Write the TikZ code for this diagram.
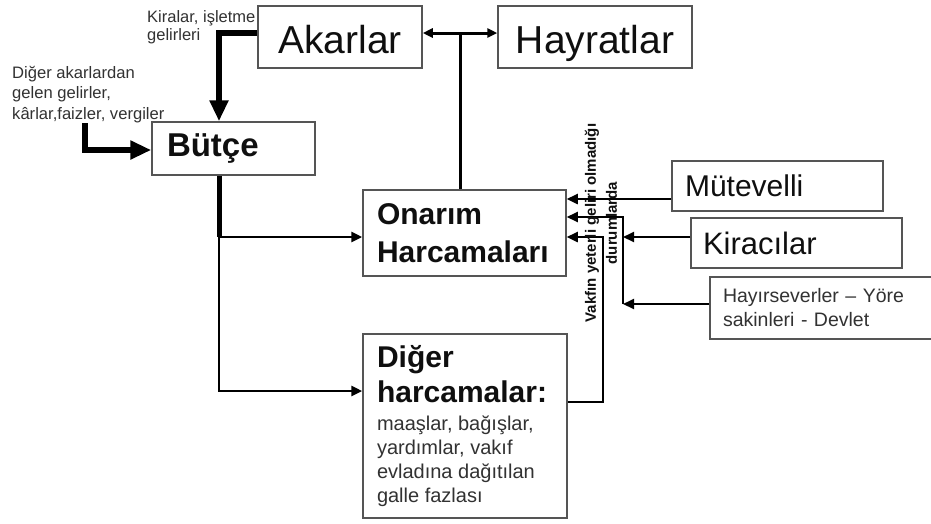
\documentclass[tikz,border=0pt]{standalone}
\usepackage{fontspec}
\setmainfont{Liberation Sans}
\usetikzlibrary{arrows.meta}
\definecolor{boxline}{RGB}{85,85,85}
\definecolor{txtgray}{RGB}{50,50,50}
\definecolor{ink}{RGB}{15,15,15}
\tikzset{
  box/.style={draw=boxline, line width=1.5pt, rectangle, inner sep=0pt, fill=white, text=ink},
  thinline/.style={line width=2.8pt, draw=black},
  thintip/.style={-{Triangle[length=11pt,width=10pt]}},
  thinarr/.style={thinline, thintip},
  thickarr/.style={line width=6pt, draw=black, -{Triangle[length=21pt,width=18pt]}},
  note/.style={text=txtgray, align=left, inner sep=0pt, anchor=north west},
}
\begin{document}
\begin{tikzpicture}[x=1pt,y=-1pt]
\useasboundingbox (0,0) rectangle (931,523);
\fill[white] (0,0) rectangle (931,523);

% boxes
\node[box, minimum width=164pt, minimum height=62pt, text height=32pt, text depth=0pt, font=\fontsize{39}{45}\selectfont] (akar) at (340,37) {Akarlar};
\node[box, minimum width=194pt, minimum height=62pt, text height=32pt, text depth=0pt, font=\fontsize{39}{45}\selectfont] (hayr) at (595,37) {Hayratlar};
\node[box, minimum height=53pt, text width=133pt, inner xsep=15pt, align=left, font=\bfseries\fontsize{33}{38}\selectfont] (butce) at (233.5,148.5) {Bütçe};
\node[box, minimum height=86pt, text width=175pt, inner xsep=14pt, align=left, font=\bfseries\fontsize{30}{38}\selectfont] (onarim) at (464.5,233) {Onarım\\Harcamaları};
\node[box, minimum width=204pt, minimum height=184pt] (diger) at (465,426) {\parbox{176pt}{\raggedright
  \fontsize{30}{35}\selectfont\bfseries Diğer\par
  harcamalar:\par
  \fontsize{20}{28}\selectfont\mdseries\leavevmode\color{txtgray}maaşlar, bağışlar,\par
  \fontsize{20}{24}\selectfont yardımlar, vakıf\par
  evladına dağıtılan\par
  galle fazlası\par}};
\node[box, minimum height=50pt, text width=185pt, inner xsep=13pt, align=left, font=\fontsize{30}{36}\selectfont] (mut) at (777.5,186) {Mütevelli};
\node[box, minimum height=50pt, text width=187pt, inner xsep=12pt, align=left, font=\fontsize{31}{36}\selectfont] (kira) at (796.5,243) {Kiracılar};
\node[box, minimum height=62pt, text width=214pt, inner xsep=13pt, align=left, text=txtgray, font=\fontsize{19.5}{24}\selectfont] (hayir) at (830,308) {Hayırseverler – Yöre\\sakinleri - Devlet};

% side notes
\node[note, font=\fontsize{16.5}{18}\selectfont] (kir) at (147,10) {Kiralar, işletme\\gelirleri};
\node[note, font=\fontsize{16.6}{20.5}\selectfont] (dak) at (12,66) {Diğer akarlardan\\gelen gelirler,\\kârlar,faizler, vergiler};

% coordinates
\coordinate (j1) at (460,33);
\coordinate (k1) at (219,33);
\coordinate (d1) at (85,150);
\coordinate (b1) at (219,237);
\coordinate (b2) at (219,391);
\coordinate (m1) at (0,199);
\coordinate (v1) at (623,217);
\coordinate (v2) at (623,304);
\coordinate (k2) at (623,237);
\coordinate (g1) at (603,402);
\coordinate (g2) at (603,237);

% connectors
\draw[thinline, line width=3pt, {Triangle[length=10pt,width=9pt]}-{Triangle[length=10pt,width=9pt]}] (akar.east |- j1) -- (hayr.west |- j1);
\draw[thinline, line width=3pt] (j1) -- (j1 |- onarim.north);
\draw[thickarr] (akar.west |- k1) -- (k1) -- (k1 |- butce.north);
\draw[thickarr] (dak.south -| d1) -- (d1) -- (butce.west |- d1);
\draw[line width=5pt] (butce.south -| b1) -- (b1);
\draw[thinarr] (b1) -- (onarim.west |- b1);
\draw[thinarr] (b1) -- (b2) -- (diger.west |- b2);
\draw[thinarr, line width=2.4pt] (mut.west |- m1) -- (onarim.east |- m1);
\draw[thinarr, line width=2pt] (kira.west |- k2) -- (k2);
\draw[thinarr, line width=2pt] (hayir.west |- v2) -- (v2);
\draw[thinarr, line width=2pt] (v2) -- (v1) -- (onarim.east |- v1);
\draw[thinarr, line width=2.4pt] (diger.east |- g1) -- (g1) -- (g2) -- (onarim.east |- g2);

% rotated label
\node[rotate=90, align=center, inner sep=0pt, text=ink, font=\bfseries\fontsize{15}{21}\selectfont] (vak) at (601,223) {Vakfın yeterli geliri olmadığı\\durumlarda};
\end{tikzpicture}
\end{document}
